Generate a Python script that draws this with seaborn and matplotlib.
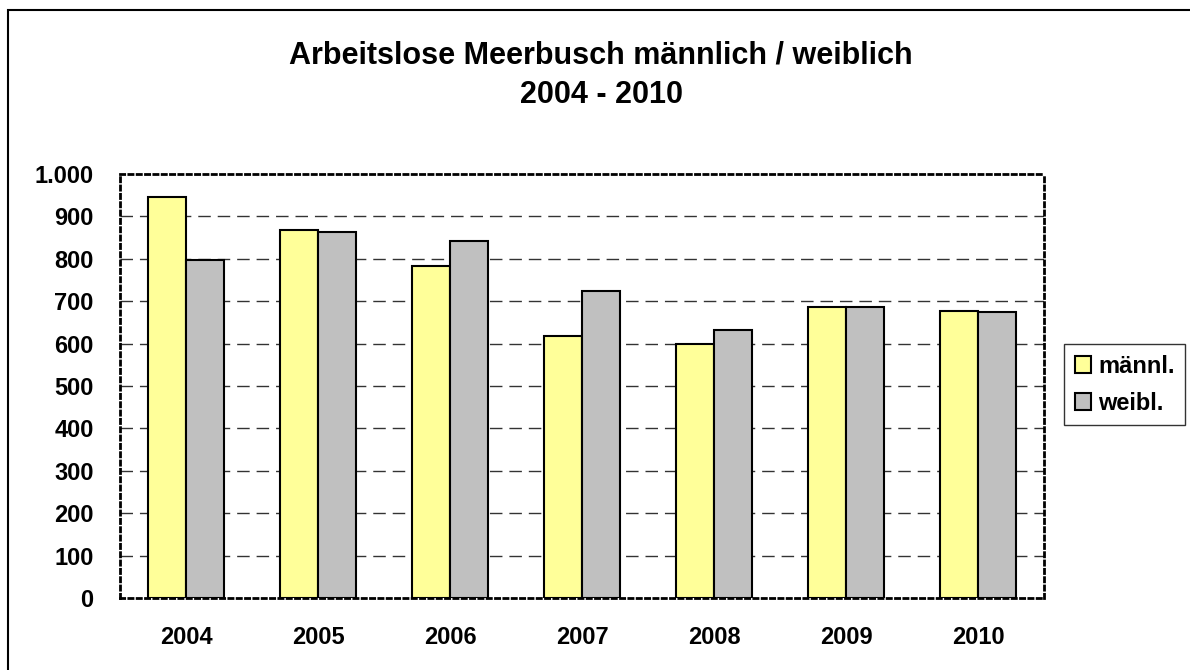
import pandas as pd
import matplotlib
matplotlib.use('Agg')
import matplotlib.pyplot as plt
import seaborn as sns
from matplotlib.patches import Rectangle
from matplotlib.ticker import FuncFormatter, FixedLocator

# Data
jahre = ['2004', '2005', '2006', '2007', '2008', '2009', '2010']
maennl = [945, 868, 783, 618, 600, 686, 678]
weibl = [797, 864, 841, 723, 632, 686, 674]

df = pd.DataFrame({
    'Jahr': jahre * 2,
    'Anzahl': maennl + weibl,
    'Geschlecht': ['männl.'] * len(jahre) + ['weibl.'] * len(jahre),
})

sns.set_style("white")
plt.rcParams['font.family'] = ['Liberation Sans', 'DejaVu Sans']
plt.rcParams['text.color'] = 'black'
plt.rcParams['xtick.color'] = 'black'
plt.rcParams['ytick.color'] = 'black'

fig = plt.figure(figsize=(11.9, 6.7), dpi=100)
ax = fig.add_axes([120 / 1190, 72 / 670, 924 / 1190, 424 / 670])

sns.barplot(data=df, x='Jahr', y='Anzahl', hue='Geschlecht',
            palette={'männl.': '#FFFF99', 'weibl.': '#C0C0C0'},
            width=0.58, edgecolor='black', linewidth=1.5, saturation=1,
            ax=ax, legend=True)

ax.set_ylim(0, 1000)
ax.set_xlim(-0.5, 6.5)
ax.set_yticks(range(0, 1001, 100))
ax.yaxis.set_major_formatter(FuncFormatter(lambda v, p: f"{v:,.0f}".replace(",", ".")))
ax.set_xlabel('')
ax.set_ylabel('')

# dashed gridlines
for v in range(100, 1000, 100):
    ax.axhline(v, color='#333333', lw=1, ls=(0, (9, 5)), zorder=0)

# dotted frame
for s in ax.spines.values():
    s.set_visible(True)
    s.set_color('black')
    s.set_linewidth(2)
    s.set_linestyle((0, (1.5, 1.5)))

ax.tick_params(axis='y', which='major', direction='inout', length=10, width=1,
               color='#666666', labelcolor='black', labelsize=17, pad=14)
ax.tick_params(axis='x', which='major', length=0, labelsize=17,
               labelcolor='black', pad=20)
ax.xaxis.set_minor_locator(FixedLocator([i - 0.5 for i in range(len(jahre) + 1)]))
ax.tick_params(axis='x', which='minor', direction='out', length=7, width=1, color='#444444')
for lab in ax.get_xticklabels() + ax.get_yticklabels():
    lab.set_fontweight('bold')

# legend
leg = ax.legend(loc='upper left', bbox_to_anchor=(1064 / 1190, 1 - 344 / 670),
                bbox_transform=fig.transFigure, frameon=True, fancybox=False,
                prop={'weight': 'bold', 'size': 17}, handlelength=0.7,
                handleheight=0.7, handletextpad=0.3, borderpad=0.45,
                labelspacing=0.6, borderaxespad=0)
leg.get_frame().set_edgecolor('black')
leg.get_frame().set_linewidth(1)

# title
fig.text(601 / 1190, 1 - 55 / 670, 'Arbeitslose Meerbusch männlich / weiblich',
         ha='center', va='center', fontsize=22, fontweight='bold')
fig.text(601 / 1190, 1 - 95 / 670, '2004 - 2010',
         ha='center', va='center', fontsize=22, fontweight='bold')

# outer chart border
fig.add_artist(Rectangle((8 / 1190, -0.1), 1.2, 1.1 - 10 / 670,
                         transform=fig.transFigure, fill=False,
                         edgecolor='black', linewidth=1.5))

fig.savefig('out.png', dpi=100)
